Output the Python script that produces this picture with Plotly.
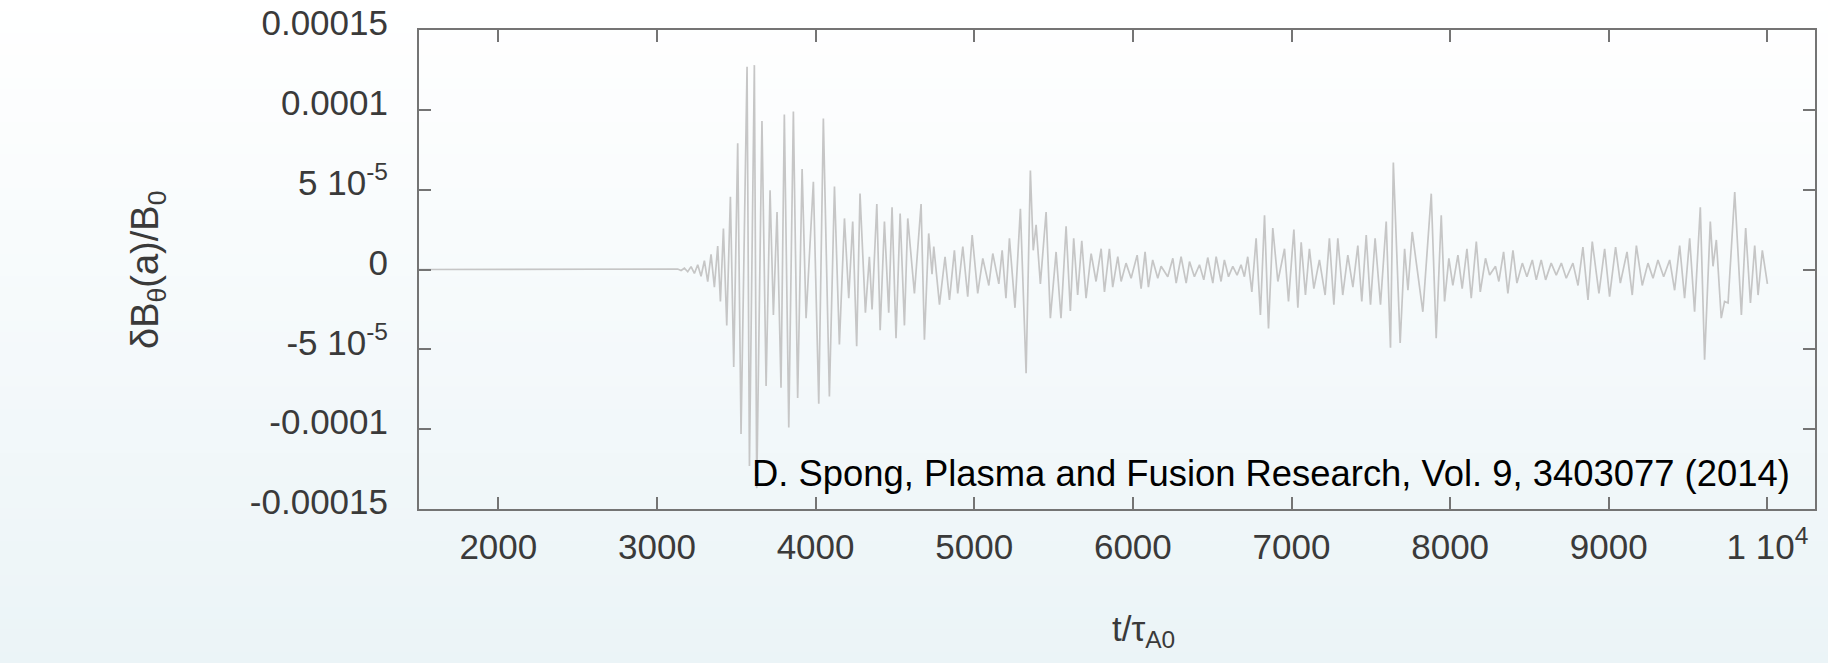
import plotly.graph_objects as go

# ---------------- data ----------------
# time in units of tau_A0
t_vals = [
    1500, 3120, 3131, 3152, 3173, 3194, 3215, 3236, 3257, 3278, 3299, 3320,
    3341, 3362, 3383, 3400, 3419, 3440, 3463, 3484, 3509, 3530, 3568, 3583,
    3614, 3629, 3662, 3688, 3713, 3734, 3757, 3782, 3803, 3831, 3860, 3887,
    3915, 3940, 3986, 4020, 4049, 4087, 4119, 4150, 4182, 4209, 4234, 4259,
    4280, 4314, 4339, 4356, 4386, 4407, 4434, 4461, 4482, 4507, 4533, 4560,
    4581, 4623, 4665, 4686, 4713, 4734, 4745, 4781, 4816, 4844, 4875, 4896,
    4928, 4959, 4987, 5022, 5054, 5092, 5117, 5155, 5176, 5200, 5222, 5257,
    5291, 5327, 5354, 5372, 5390, 5417, 5453, 5480, 5516, 5547, 5579, 5606,
    5627, 5652, 5678, 5705, 5737, 5768, 5800, 5821, 5852, 5873, 5905, 5926,
    5957, 5989, 6027, 6052, 6077, 6098, 6125, 6157, 6178, 6220, 6252, 6273,
    6304, 6336, 6357, 6388, 6420, 6447, 6472, 6504, 6525, 6556, 6577, 6603,
    6630, 6657, 6682, 6703, 6724, 6750, 6777, 6804, 6830, 6855, 6882, 6914,
    6956, 6981, 7015, 7040, 7061, 7088, 7113, 7141, 7176, 7212, 7239, 7267,
    7292, 7323, 7355, 7387, 7418, 7443, 7471, 7498, 7527, 7561, 7597, 7624,
    7642, 7685, 7713, 7734, 7761, 7828, 7881, 7912, 7944, 7965, 7992, 8017,
    8049, 8076, 8106, 8133, 8165, 8190, 8223, 8249, 8286, 8307, 8337, 8364,
    8396, 8421, 8455, 8484, 8518, 8543, 8574, 8602, 8637, 8669, 8701, 8732,
    8774, 8806, 8837, 8869, 8896, 8938, 8974, 9005, 9043, 9073, 9115, 9148,
    9174, 9211, 9247, 9279, 9310, 9346, 9384, 9415, 9447, 9478, 9510, 9541,
    9577, 9604, 9640, 9657, 9678, 9709, 9730, 9752, 9794, 9836, 9863, 9893,
    9920, 9941, 9968, 10000,
]

# delta B_theta(a)/B_0 in units of 1e-5
db_e5 = [
    0, 0, 0.03, -0.06, 0.08, -0.14, 0.18, -0.25, 0.3, -0.42, 0.55, -0.76,
    0.95, -1.1, 1.47, -2.0, 2.57, -3.5, 4.55, -6.1, 7.9, -10.3, 12.7, -12.3,
    12.8, -13.7, 9.3, -7.3, 4.97, -2.85, 3.6, -7.4, 9.7, -9.9, 9.9, -8.05,
    6.3, -3.05, 5.5, -8.4, 9.45, -7.95, 5.2, -4.7, 3.2, -1.8, 3.0, -4.8,
    4.76, -2.7, 0.8, -2.5, 4.1, -3.8, 3.0, -2.7, 3.9, -4.3, 3.5, -3.5,
    3.2, -1.5, 4.1, -4.4, 2.26, -0.3, 1.43, -2.2, 0.8, -1.9, 1.2, -1.5,
    1.43, -1.7, 2.16, -1.5, 0.7, -1.0, 1.0, -0.9, 1.2, -1.8, 1.95, -2.4,
    3.8, -6.5, 6.2, 1.2, 2.8, -0.9, 3.6, -3.05, 1.1, -3.05, 2.7, -2.6,
    1.95, -1.6, 1.8, -1.8, 1.0, -0.75, 1.3, -1.4, 1.3, -1.1, 0.8, -0.75,
    0.4, -0.55, 0.9, -1.2, 1.1, -1.1, 0.6, -0.55, 0.2, -0.45, 0.7, -0.85,
    0.8, -0.85, 0.5, -0.45, 0.3, -0.65, 0.75, -0.85, 0.8, -0.75, 0.6, -0.45,
    0.2, -0.35, 0.3, -0.45, 0.8, -1.4, 1.95, -2.85, 3.4, -3.7, 2.6, -0.75,
    1.3, -2.0, 2.5, -2.4, 1.7, -1.6, 1.3, -1.2, 0.6, -1.6, 1.95, -2.2,
    1.95, -1.6, 0.9, -1.1, 1.5, -2.0, 2.15, -2.2, 1.95, -2.2, 3.0, -4.9,
    6.7, -4.6, 1.3, -1.3, 2.35, -2.65, 4.75, -4.3, 3.4, -2.0, 0.7, -1.0,
    0.9, -1.2, 1.3, -1.8, 1.75, -1.4, 0.7, -0.35, 0.2, -0.75, 1.1, -1.5,
    1.2, -0.85, 0.4, -0.45, 0.6, -0.65, 0.6, -0.65, 0.4, -0.35, 0.4, -0.55,
    0.4, -1.0, 1.4, -1.9, 1.75, -1.5, 1.3, -1.7, 1.4, -0.85, 1.1, -1.6,
    1.5, -1.0, 0.4, -0.55, 0.6, -0.45, 0.6, -1.3, 1.5, -1.8, 1.95, -2.65,
    3.9, -5.65, 3.0, 0.2, 1.85, -3.05, -2.0, -2.1, 4.85, -2.85, 2.6, -2.1,
    1.5, -1.6, 1.2, -0.9,
]
assert len(t_vals) == len(db_e5)
UNIT = 1e-5

x_tickvals = [2000, 3000, 4000, 5000, 6000, 7000, 8000, 9000, 10000]
x_ticktext = ["2000", "3000", "4000", "5000", "6000", "7000", "8000", "9000",
              "1 10<sup>4</sup>"]
y_tickvals = [0.00015, 0.0001, 0.00005, 0, -0.00005, -0.0001, -0.00015]
y_ticktext = ["0.00015", "0.0001", "5 10<sup>-5</sup>", "0",
              "-5 10<sup>-5</sup>", "-0.0001", "-0.00015"]

citation = "D. Spong, Plasma and Fusion Research, Vol. 9, 3403077 (2014)"
x_title = "t/τ<sub>A0</sub>"
y_title = "δB<sub>θ</sub>(a)/B<sub>0</sub>"

# ---------------- layout geometry ----------------
W, H = 1828, 663
L, R, T, B = 419, 13, 30, 154
pw, ph = W - L - R, H - T - B

def px_to_paper_x(px):
    return (px - L) / pw

def px_to_paper_y(py):
    return (H - B - py) / ph

FONT = "Liberation Sans, Arial, Helvetica, sans-serif"
AXIS_GREY = "#747474"
TICK_FONT = dict(family=FONT, size=35, color="#3a3a3a")

fig = go.Figure()
fig.add_trace(go.Scatter(
    x=t_vals, y=[v * UNIT for v in db_e5], mode="lines",
    line=dict(color="#c6c6c6", width=1.7), hoverinfo="skip", showlegend=False,
))

# page background: soft vertical gradient (white -> pale blue-grey)
shapes = []
N = 60
top_rgb = (255, 255, 255)
bot_rgb = (235, 244, 247)
for i in range(N):
    y0 = i * H / N
    y1 = (i + 1) * H / N + 1
    f = (i + 0.5) / N
    c = tuple(round(a + (b - a) * f) for a, b in zip(top_rgb, bot_rgb))
    shapes.append(dict(
        type="rect", xref="paper", yref="paper", layer="below",
        x0=px_to_paper_x(0), x1=px_to_paper_x(W),
        y0=px_to_paper_y(y1), y1=px_to_paper_y(y0),
        fillcolor="rgb(%d,%d,%d)" % c, line=dict(width=0),
    ))

annotations = [
    dict(text=y_title, xref="paper", yref="paper",
         x=px_to_paper_x(148), y=px_to_paper_y(270), textangle=-90,
         xanchor="center", yanchor="middle", showarrow=False,
         font=dict(family=FONT, size=38, color="#3a3a3a")),
    dict(text=x_title, xref="paper", yref="paper",
         x=px_to_paper_x(1143), y=px_to_paper_y(631),
         xanchor="center", yanchor="middle", showarrow=False,
         font=dict(family=FONT, size=35, color="#3a3a3a")),
    dict(text=citation, xref="paper", yref="paper",
         x=px_to_paper_x(750), y=px_to_paper_y(473),
         xanchor="left", yanchor="middle", showarrow=False,
         font=dict(family=FONT, size=36.4, color="#000000")),
]

axis_common = dict(
    showgrid=False, zeroline=False, showline=True, linecolor=AXIS_GREY,
    linewidth=2, mirror="ticks", ticks="inside", ticklen=12, tickwidth=2,
    tickcolor=AXIS_GREY, tickfont=TICK_FONT, automargin=False,
)

fig.update_layout(
    width=W, height=H,
    margin=dict(l=L, r=R, t=T, b=B, pad=0, autoexpand=False),
    paper_bgcolor="#f6f9fb", plot_bgcolor="rgba(0,0,0,0)",
    showlegend=False,
    shapes=shapes, annotations=annotations,
    xaxis=dict(range=[1500, 10300], tickvals=x_tickvals, ticktext=x_ticktext,
               ticklabelstandoff=6, **axis_common),
    yaxis=dict(range=[-0.00015, 0.00015], tickvals=y_tickvals,
               ticktext=y_ticktext, ticklabelstandoff=22, ticklabelshift=-7,
               ticklabeloverflow="allow", **axis_common),
)

fig.write_html("out.html")
